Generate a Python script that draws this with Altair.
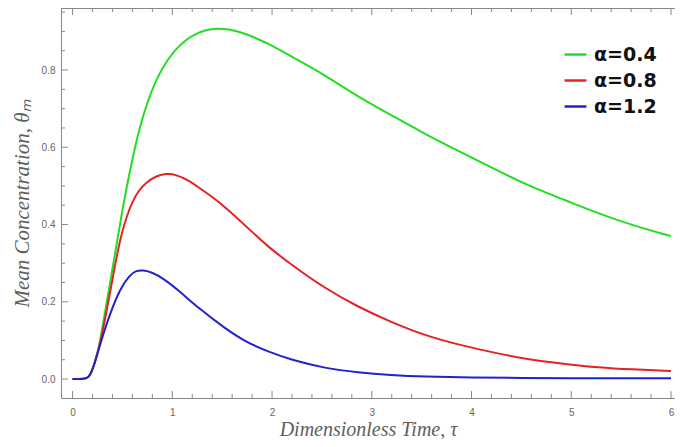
import altair as alt
import pandas as pd

# ---- data ----
series_names = ["α=0.4", "α=0.8", "α=1.2"]
series_colors = ["#22dd22", "#e52222", "#2222cc"]

tau_green = [0, 0.12, 0.16, 0.19, 0.22, 0.25, 0.278, 0.41, 0.503, 0.592, 0.675, 0.757, 0.87,
             1.04, 1.24, 1.44, 1.67, 1.96, 2.20, 2.53, 2.86, 3.19, 3.52, 3.85, 4.28, 4.61, 4.94,
             5.27, 5.60, 6.0]
theta_green = [0, 0, 0.004, 0.018, 0.04, 0.068, 0.1, 0.3, 0.445, 0.562, 0.655, 0.723, 0.795,
               0.86, 0.898, 0.91, 0.902, 0.869, 0.834, 0.787, 0.731, 0.684, 0.636, 0.593,
               0.537, 0.496, 0.463, 0.429, 0.399, 0.37]

tau_red = [0, 0.12, 0.16, 0.19, 0.22, 0.25, 0.278, 0.31, 0.41, 0.476, 0.575, 0.66, 0.741, 0.84,
           0.94, 1.04, 1.15, 1.27, 1.40, 1.53, 1.73, 1.96, 2.20, 2.53, 2.86, 3.19, 3.52, 3.85,
           4.28, 4.61, 4.94, 5.27, 5.60, 6.0]
theta_red = [0, 0, 0.004, 0.018, 0.04, 0.068, 0.097, 0.132, 0.272, 0.365, 0.448, 0.488, 0.51,
             0.526, 0.532, 0.529, 0.516, 0.495, 0.472, 0.445, 0.398, 0.342, 0.295, 0.235,
             0.187, 0.148, 0.114, 0.090, 0.065, 0.049, 0.039, 0.030, 0.025, 0.021]

tau_blue = [0, 0.12, 0.16, 0.19, 0.22, 0.25, 0.278, 0.31, 0.377, 0.476, 0.575, 0.64, 0.707,
            0.80, 0.906, 1.07, 1.27, 1.53, 1.73, 1.96, 2.20, 2.53, 2.86, 3.19, 3.52, 4.0, 4.5,
            5.0, 5.5, 6.0]
theta_blue = [0, 0, 0.004, 0.018, 0.04, 0.066, 0.09, 0.118, 0.17, 0.234, 0.27, 0.281, 0.282,
              0.276, 0.261, 0.228, 0.182, 0.131, 0.097, 0.071, 0.049, 0.028, 0.017, 0.010,
              0.006, 0.004, 0.003, 0.002, 0.002, 0.002]

x_major = [0, 1, 2, 3, 4, 5, 6]
x_minor = [round(i * 0.2, 1) for i in range(31) if i % 5 != 0]
y_major = [0.0, 0.2, 0.4, 0.6, 0.8]
y_minor = [round(i * 0.05, 2) for i in range(1, 20) if i % 4 != 0]

rows = []
for name, ts, vs in zip(series_names, [tau_green, tau_red, tau_blue],
                        [theta_green, theta_red, theta_blue]):
    for t, v in zip(ts, vs):
        rows.append({"tau": t, "theta": v, "series": name})
df = pd.DataFrame(rows)

W, H = 614, 390
GRAY = "#888888"
LABEL = "#666666"

xscale = alt.Scale(domain=[-0.116, 6.04], nice=False, zero=False)
yscale = alt.Scale(domain=[-0.049, 0.9605], nice=False, zero=False)

xaxis = alt.Axis(values=x_major, format="d", ticks=False, tickSize=0, grid=False,
                 labelPadding=9, labelFontSize=10, labelColor=LABEL, labelFont="Liberation Sans",
                 domainColor=GRAY, title="Dimensionless Time, τ", titleFont="Liberation Serif",
                 titleFontStyle="italic", titleFontWeight="normal", titleFontSize=20,
                 titleColor="#5e5e5e", titlePadding=2)
yaxis = alt.Axis(values=y_major, format=".1f", ticks=False, tickSize=0, grid=False,
                 labelPadding=6, labelFontSize=10, labelColor=LABEL, labelFont="Liberation Sans",
                 domainColor=GRAY, title="Mean Concentration, θₘ", titleFont="Liberation Serif",
                 titleFontStyle="italic", titleFontWeight="normal", titleFontSize=21,
                 titleColor="#5e5e5e", titlePadding=9)

lines = alt.Chart(df).mark_line(strokeWidth=2, interpolate="basis", clip=True).encode(
    x=alt.X("tau:Q", scale=xscale, axis=xaxis),
    y=alt.Y("theta:Q", scale=yscale, axis=yaxis),
    color=alt.Color("series:N",
                    scale=alt.Scale(domain=series_names, range=series_colors),
                    sort=series_names,
                    legend=alt.Legend(orient="none", legendX=502, legendY=34, title=None,
                                      symbolType="stroke", symbolSize=480, symbolStrokeWidth=2.5,
                                      labelFont="DejaVu Sans", labelFontWeight="bold",
                                      labelFontSize=19, labelColor="#111111", labelOffset=6,
                                      rowPadding=3)),
)

xt_major = pd.DataFrame({"tau": x_major})
xt_minor = pd.DataFrame({"tau": x_minor})
yt_major = pd.DataFrame({"theta": y_major})
yt_minor = pd.DataFrame({"theta": y_minor})

def xticks(data, length):
    bottom = alt.Chart(data).mark_rule(color=GRAY, strokeWidth=1).encode(
        x="tau:Q", y=alt.value(H - length), y2=alt.value(H))
    top = alt.Chart(data).mark_rule(color=GRAY, strokeWidth=1).encode(
        x="tau:Q", y=alt.value(0), y2=alt.value(length))
    return bottom + top

def yticks(data, length):
    return alt.Chart(data).mark_rule(color=GRAY, strokeWidth=1).encode(
        y="theta:Q", x=alt.value(0), x2=alt.value(length))

top_frame = alt.Chart(xt_major).mark_rule(color=GRAY, strokeWidth=1).encode(
    x=alt.value(0), x2=alt.value(W), y=alt.value(0.5))

chart = alt.layer(
    top_frame,
    xticks(xt_major, 7), xticks(xt_minor, 4),
    yticks(yt_major, 7), yticks(yt_minor, 4),
    lines,
).properties(
    width=W, height=H,
    autosize=alt.AutoSizeParams(type="none"),
    padding={"left": 53, "top": 0, "right": 0, "bottom": 41},
    background="white",
).configure_view(stroke=None)

chart.save("out.html", embed_options={"renderer": "svg", "actions": False})
